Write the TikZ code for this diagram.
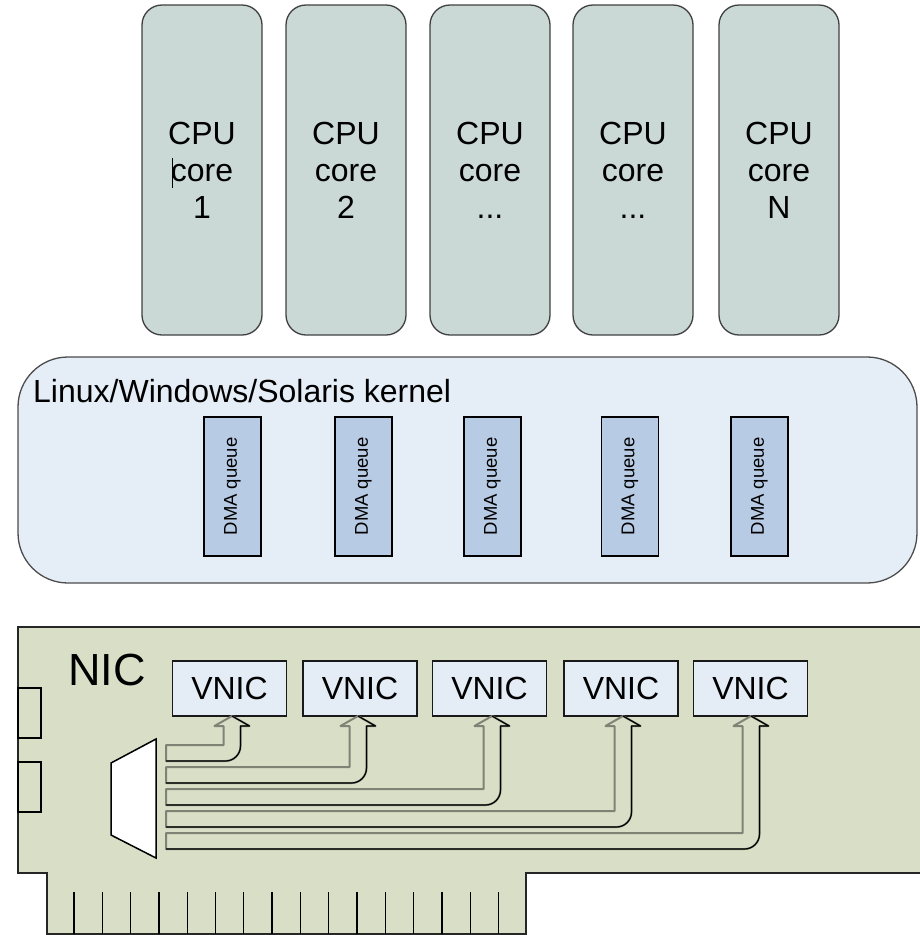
\documentclass[tikz,border=0pt]{standalone}
\usepackage{fontspec}
\setmainfont{Liberation Sans}
\usetikzlibrary{calc}

\definecolor{cpufill}{RGB}{202,217,214}
\definecolor{kernfill}{RGB}{229,237,247}
\definecolor{dmafill}{RGB}{184,203,228}
\definecolor{cardfill}{RGB}{217,222,198}
\definecolor{vnicfill}{RGB}{228,236,246}
\definecolor{pipegray}{RGB}{128,130,118}

\newcommand\moredots{...}

\tikzset{
  cpubox/.style={draw=black!75,line width=1.3pt,fill=cpufill,rounded corners=20pt,
    minimum width=120pt,minimum height=330pt,align=center,
    font=\fontsize{32}{37}\selectfont},
  kernelbox/.style={draw=black!70,line width=1.3pt,fill=kernfill,rounded corners=50pt},
  dmabox/.style={draw=black,line width=1.2pt,fill=dmafill,rotate=90,
    minimum width=139pt,minimum height=57pt,font=\fontsize{18.5}{20}\selectfont},
  vnicbox/.style={draw=black!90,line width=1.2pt,fill=vnicfill,
    minimum width=114pt,minimum height=55pt,font=\fontsize{32}{37}\selectfont},
  bigtext/.style={anchor=base west,inner sep=0pt,font=\fontsize{32}{37}\selectfont},
  pipeback/.style={draw=pipegray,line width=2pt,line join=round},
  pipefront/.style={draw=black,line width=1.2pt,line join=round}
}

\begin{document}
\begin{tikzpicture}[x=1pt,y=-1pt]
 \useasboundingbox (0,0) rectangle (920,935);
 \clip (0,0) rectangle (920,935);

 % cores
 \foreach \i/\cx/\t in {1/202/1,2/346/2,3/490/\moredots,4/633/\moredots,5/779/N}
   \node[cpubox] (cpu\i) at (\cx,170) {CPU\\core\\\t};
 \draw[line width=0.9pt] (172,158) -- (172,188);

 % kernel with its queues
 \node[kernelbox,minimum width=899pt,minimum height=226pt] (kernel) at (467.5,470) {};
 \node[bigtext] (kerneltitle) at (33,402) {Linux/Windows/Solaris kernel};
 \foreach \i/\cx in {1/232.5,2/363.5,3/492.5,4/630,5/759.5}
   \node[dmabox] (dma\i) at (\cx,486.5) {DMA queue};

 % the card
 \draw[line width=1.5pt,draw=black!85,fill=cardfill]
   (18,627) -- (930,627) -- (930,873) -- (526,873) -- (526,934)
   -- (47,934) -- (47,873) -- (18,873) -- cycle;
 \draw[line width=1.3pt] (18,688) rectangle (41,738);
 \draw[line width=1.3pt] (18,762) rectangle (41,812);
 \foreach \k in {0,...,15}
   \draw[line width=1.3pt] (74+28.3*\k,892) -- (74+28.3*\k,934);
 \node[anchor=base west,inner sep=0pt,font=\fontsize{45}{50}\selectfont] (nic) at (68,685) {NIC};

 \draw[line width=1.5pt,fill=white] (111,763) -- (156,739) -- (156,858) -- (111,835) -- cycle;
 \coordinate (muxout) at (166,745);

 \foreach \i/\cx in {1/229.5,2/360,3/489.5,4/621,5/750.5}
   \node[vnicbox] (vnic\i) at (\cx,688.5) {VNIC};

 \foreach \i/\cx/\yu in {1/232/745,2/358/767,3/492/789,4/623/811,5/751/833}{
   \pgfmathsetmacro\yl{\yu+16}
   \pgfmathsetmacro\xi{\cx-8.5}
   \pgfmathsetmacro\xo{\cx+8.5}
   \draw[pipeback] (muxout |- 0,\yu) -- (\xi,\yu) -- (\xi,726) -- (\xi-9,726)
     -- (\cx,716) -- (\xo+9,726) -- (\xo,726) -- (\xo,\yl-15)
     .. controls (\xo,\yl-6.7) and (\xo-6.7,\yl) .. (\xo-15,\yl)
     -- (muxout |- 0,\yl) -- cycle;
   \draw[pipefront] (\cx,716) -- (\xo+9,726) -- (\xo,726) -- (\xo,\yl-15)
     .. controls (\xo,\yl-6.7) and (\xo-6.7,\yl) .. (\xo-15,\yl)
     -- (muxout |- 0,\yl);
 }
\end{tikzpicture}
\end{document}
